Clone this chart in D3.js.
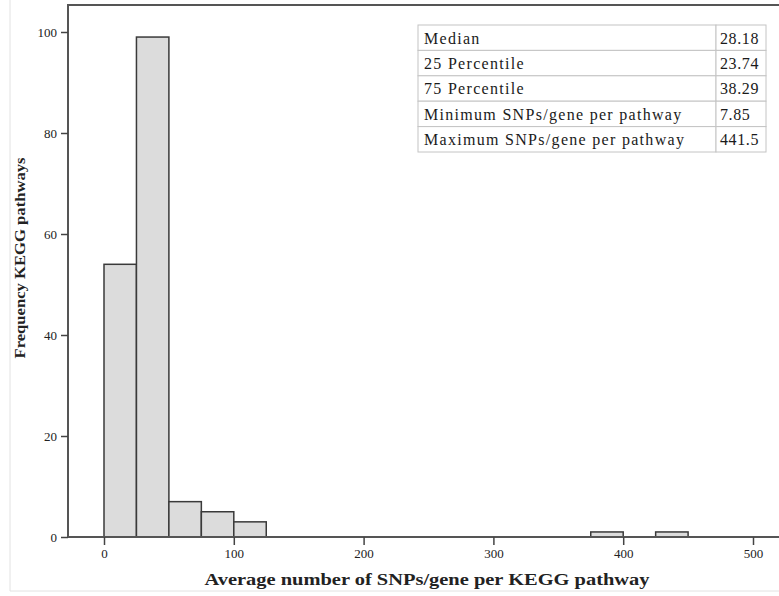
<!DOCTYPE html>
<html>
<head>
<meta charset="utf-8">
<script src="https://cdn.jsdelivr.net/npm/d3@7"></script>
<style>
  body { margin: 0; background: #fff; }
  svg { display: block; font-family: "Liberation Serif", "Times New Roman", serif; }
</style>
</head>
<body>
<script>
// histogram bins (lower / upper edge) and counts
var binLo = [0, 25, 50, 75, 100, 375, 425];
var binHi = [25, 50, 75, 100, 125, 400, 450];
var counts = [54, 99, 7, 5, 3, 1, 1];

var xTicks = [0, 100, 200, 300, 400, 500];
var yTicks = [0, 20, 40, 60, 80, 100];

// summary table
var statLabels = ['Median', '25 Percentile', '75 Percentile',
  'Minimum SNPs/gene per pathway', 'Maximum SNPs/gene per pathway'];
var statValues = ['28.18', '23.74', '38.29', '7.85', '441.5'];

var svgWidth = 779;
var svgHeight = 596;

// plot frame
var frame = { left: 68, top: 5, right: 779, bottom: 537 };

var svg = d3.select('body').append('svg')
  .attr('width', svgWidth)
  .attr('height', svgHeight);

var xScale = d3.scaleLinear()
  .domain([0, 500])
  .range([104, 753]);

var yScale = d3.scaleLinear()
  .domain([0, 100])
  .range([frame.bottom, 32]);

// faint outer border of the figure
svg.append('path')
  .attr('d', `M10,0 V591 H${svgWidth}`)
  .attr('fill', 'none')
  .attr('stroke', '#e2e2e2')
  .attr('stroke-width', 1);

// bars
svg.selectAll('rect.bar')
  .data(counts)
  .enter()
  .append('rect')
  .attr('class', 'bar')
  .attr('x', function(d, i) { return xScale(binLo[i]); })
  .attr('width', function(d, i) { return xScale(binHi[i]) - xScale(binLo[i]); })
  .attr('y', function(d) { return yScale(d); })
  .attr('height', function(d) { return yScale(0) - yScale(d); })
  .attr('fill', '#dcdcdc')
  .attr('stroke', '#3a3a3a')
  .attr('stroke-width', 1.5);

// frame lines (left, top, bottom)
svg.append('path')
  .attr('d', `M${frame.right},${frame.top} H${frame.left} V${frame.bottom} H${frame.right}`)
  .attr('fill', 'none')
  .attr('stroke', '#555')
  .attr('stroke-width', 2);

// axes
var bottomAxis = d3.axisBottom(xScale).tickValues(xTicks).tickSize(8).tickPadding(4);
var leftAxis = d3.axisLeft(yScale).tickValues(yTicks).tickSize(7).tickPadding(4);

var gx = svg.append('g')
  .attr('transform', `translate(0, ${frame.bottom})`)
  .call(bottomAxis);

var gy = svg.append('g')
  .attr('transform', `translate(${frame.left}, 0)`)
  .call(leftAxis);

[gx, gy].forEach(function(g) {
  g.select('.domain').remove();
  g.selectAll('line').attr('stroke', '#444').attr('stroke-width', 1.5);
  g.selectAll('text')
    .attr('fill', '#222')
    .style('font-family', '"Liberation Serif", serif')
    .style('font-size', '13px');
});

// axis titles
svg.append('text')
  .attr('x', 427)
  .attr('y', 585)
  .attr('text-anchor', 'middle')
  .attr('font-weight', 'bold')
  .attr('font-size', 16)
  .attr('fill', '#222')
  .attr('textLength', 445)
  .attr('lengthAdjust', 'spacingAndGlyphs')
  .text('Average number of SNPs/gene per KEGG pathway');

svg.append('text')
  .attr('transform', 'translate(25, 258) rotate(-90)')
  .attr('text-anchor', 'middle')
  .attr('font-weight', 'bold')
  .attr('font-size', 15)
  .attr('fill', '#222')
  .attr('textLength', 201)
  .attr('lengthAdjust', 'spacingAndGlyphs')
  .text('Frequency KEGG pathways');

// summary table
var table = { left: 418, split: 716, right: 766, top: 25, rowH: 25.4 };

var rows = svg.append('g').selectAll('g')
  .data(statLabels)
  .enter()
  .append('g')
  .attr('transform', function(d, i) { return `translate(0, ${table.top + i * table.rowH})`; });

rows.append('rect')
  .attr('x', table.left)
  .attr('width', table.split - table.left)
  .attr('height', table.rowH)
  .attr('fill', '#fff')
  .attr('stroke', '#c4c4c4');

rows.append('rect')
  .attr('x', table.split)
  .attr('width', table.right - table.split)
  .attr('height', table.rowH)
  .attr('fill', '#fff')
  .attr('stroke', '#c4c4c4');

rows.append('text')
  .attr('x', table.left + 6)
  .attr('y', 18.5)
  .attr('font-size', 16)
  .attr('letter-spacing', 1.3)
  .attr('fill', '#1a1a1a')
  .text(function(d) { return d; });

rows.append('text')
  .attr('x', table.split + 4)
  .attr('y', 18.5)
  .attr('font-size', 16)
  .attr('letter-spacing', 0.6)
  .attr('fill', '#1a1a1a')
  .text(function(d, i) { return statValues[i]; });
</script>
</body>
</html>
